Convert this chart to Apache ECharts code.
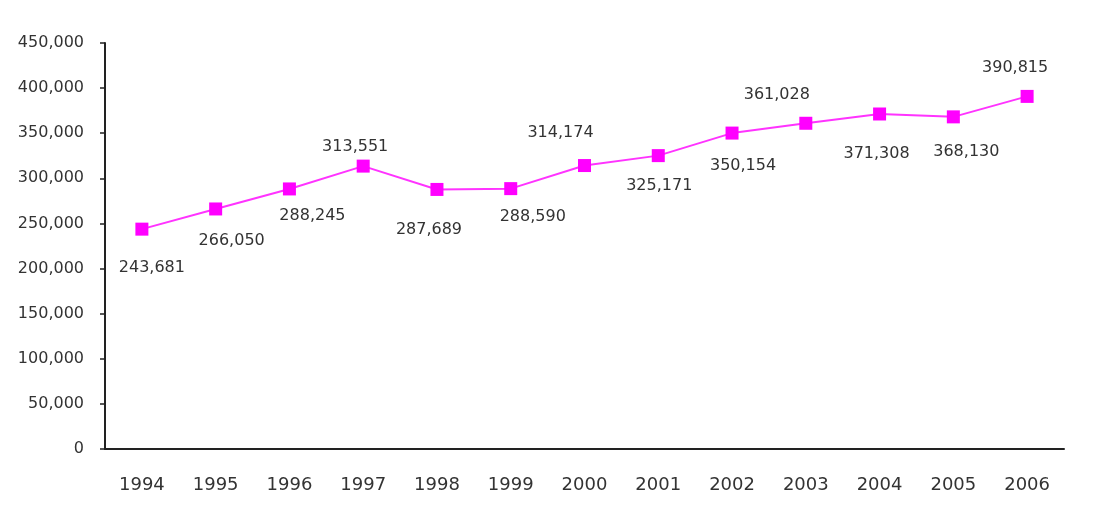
<!DOCTYPE html>
<html><head><meta charset="utf-8">
<script src="https://cdn.jsdelivr.net/npm/echarts@6/dist/echarts.min.js"></script>
<style>html,body{margin:0;padding:0;background:#fff}#c{width:1105px;height:514px}</style>
</head><body><div id="c"></div>
<script>
const years = ['1994','1995','1996','1997','1998','1999','2000','2001','2002','2003','2004','2005','2006'];
const values = [243681,266050,288245,313551,287689,288590,314174,325171,350154,361028,371308,368130,390815];
const yTicks = [0,50000,100000,150000,200000,250000,300000,350000,400000,450000];
// label offsets (style) relative to each marker centre
const labelOffsets = [[10,39],[16,32],[23,27],[-8,-19],[-8,40],[22,28],[-24,-33],[1,30],[11,33],[-29,-28],[-3,40],[13,35],[-12,-29]];

const fmt = v => v.toLocaleString('en-US');
const FONT = 'DejaVu Sans';
const chart = echarts.init(document.getElementById('c'));
chart.setOption({
  animation:false,
  grid:{left:105,right:41,top:43,bottom:65,containLabel:false},
  xAxis:{type:'category',data:years,boundaryGap:true,
    axisLine:{lineStyle:{color:'#222',width:2}},
    axisTick:{inside:true,length:7,interval:0,lineStyle:{color:'#222',width:1.5}},
    axisLabel:{color:'#333',fontSize:18,fontFamily:FONT,margin:27,interval:0}},
  yAxis:{type:'value',min:yTicks[0],max:yTicks[yTicks.length-1],interval:50000,
    axisLine:{show:true,lineStyle:{color:'#222',width:2}},
    axisTick:{show:true,length:5,lineStyle:{color:'#222',width:1.5}},
    splitLine:{show:false},
    axisLabel:{color:'#333',fontSize:16,fontFamily:FONT,margin:21,formatter:v=>fmt(v)}},
  series:[{type:'line',data:values.map((v,i)=>({value:v,label:{offset:labelOffsets[i]}})),
    symbol:'rect',symbolSize:13,
    lineStyle:{color:'#ff33ff',width:2},
    itemStyle:{color:'#ff00ff'},
    label:{show:true,position:'inside',color:'#333',fontSize:16,fontFamily:FONT,formatter:p=>fmt(p.value)}}]
});
</script></body></html>
